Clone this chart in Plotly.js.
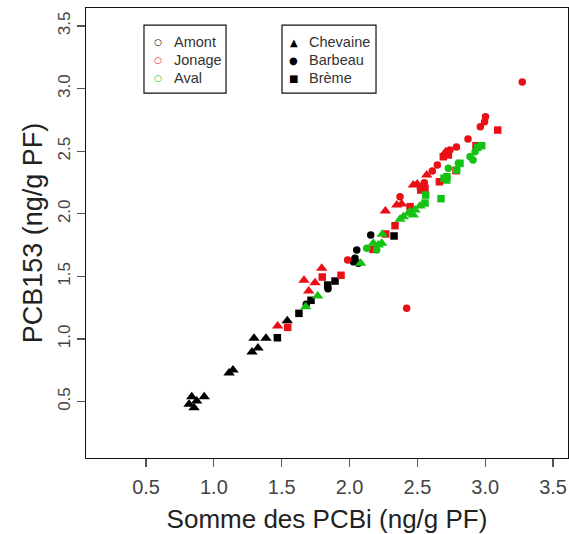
<!DOCTYPE html>
<html>
<head>
<meta charset="utf-8">
<script src="https://cdn.plot.ly/plotly-3.0.1.min.js"></script>
<style>
  html, body { margin: 0; padding: 0; background: #fff; overflow: hidden; }
  #chart { width: 569px; height: 534px; }
</style>
</head>
<body>
<div id="chart"></div>
<script>
// ---- Data (Somme des PCBi, PCB153), ng/g PF ----
// Amont (black)
const amontChevaineX = [0.837, 0.929, 0.873, 0.817, 0.854, 1.112, 1.141, 1.296, 1.384, 1.281, 1.325, 1.541];
const amontChevaineY = [0.539, 0.539, 0.505, 0.478, 0.451, 0.728, 0.752, 1.006, 1.006, 0.896, 0.928, 1.146];
const amontBarbeauX  = [1.681, 1.841, 2.053, 2.040, 2.065, 2.028, 2.156];
const amontBarbeauY  = [1.277, 1.402, 1.711, 1.645, 1.605, 1.617, 1.831];
const amontBremeX    = [1.468, 1.627, 1.716, 1.839, 1.893, 2.328];
const amontBremeY    = [1.010, 1.205, 1.309, 1.431, 1.463, 1.823];
// Jonage (red)
const jonageChevaineX = [1.470, 1.664, 1.699, 1.745, 1.795, 2.264, 2.348, 2.384, 2.470, 2.499, 2.532, 2.569, 2.709];
const jonageChevaineY = [1.104, 1.469, 1.383, 1.450, 1.565, 2.022, 2.070, 2.078, 2.230, 2.238, 2.216, 2.310, 2.496];
const jonageBarbeauX  = [1.986, 2.372, 2.421, 2.551, 2.610, 2.647, 2.740, 2.788, 2.873, 2.964, 2.995, 3.002, 3.273];
const jonageBarbeauY  = [1.631, 2.137, 1.245, 2.248, 2.342, 2.390, 2.510, 2.534, 2.597, 2.696, 2.736, 2.776, 3.053];
const jonageBremeX    = [1.544, 1.799, 1.937, 2.173, 2.267, 2.335, 2.446, 2.525, 2.556, 2.662, 2.691, 2.728, 2.785, 2.932, 3.092];
const jonageBremeY    = [1.093, 1.495, 1.509, 1.716, 1.839, 1.905, 2.057, 2.190, 2.204, 2.256, 2.456, 2.470, 2.344, 2.544, 2.669];
// Aval (green)
const avalChevaineX = [1.677, 1.765, 2.082, 2.175, 2.237, 2.212, 2.241, 2.372, 2.396, 2.433, 2.446, 2.470, 2.483, 2.519];
const avalChevaineY = [1.258, 1.343, 1.605, 1.764, 1.764, 1.751, 1.836, 1.956, 1.977, 2.004, 2.017, 1.990, 2.030, 2.062];
const avalBarbeauX  = [2.127, 2.200, 2.728, 2.802, 2.888, 2.910, 2.925];
const avalBarbeauY  = [1.724, 1.711, 2.363, 2.403, 2.456, 2.430, 2.496];
const avalBremeX    = [2.561, 2.556, 2.674, 2.696, 2.718, 2.716, 2.790, 2.814, 2.945, 2.974];
const avalBremeY    = [2.150, 2.086, 2.121, 2.284, 2.296, 2.270, 2.350, 2.403, 2.531, 2.544];

const tickVals = [0.5, 1.0, 1.5, 2.0, 2.5, 3.0, 3.5];
const tickText = ['0.5', '1.0', '1.5', '2.0', '2.5', '3.0', '3.5'];
const sites = ['Amont', 'Jonage', 'Aval'];
const species = ['Chevaine', 'Barbeau', 'Brème'];

// ---- Styles ----
const BLACK = '#000000', RED = '#ea0f16', GREEN = '#14c214';
const symbolOf = { Chevaine: 'triangle-up', Barbeau: 'circle', 'Brème': 'square' };
const sizeOf = { Chevaine: 10, Barbeau: 7.5, 'Brème': 7.5 };

const groups = [
  ['Amont', 'Chevaine', amontChevaineX, amontChevaineY, BLACK],
  ['Amont', 'Barbeau', amontBarbeauX, amontBarbeauY, BLACK],
  ['Amont', 'Brème', amontBremeX, amontBremeY, BLACK],
  ['Jonage', 'Chevaine', jonageChevaineX, jonageChevaineY, RED],
  ['Jonage', 'Barbeau', jonageBarbeauX, jonageBarbeauY, RED],
  ['Jonage', 'Brème', jonageBremeX, jonageBremeY, RED],
  ['Aval', 'Chevaine', avalChevaineX, avalChevaineY, GREEN],
  ['Aval', 'Barbeau', avalBarbeauX, avalBarbeauY, GREEN],
  ['Aval', 'Brème', avalBremeX, avalBremeY, GREEN]
];

const traces = groups.map(g => ({
  type: 'scatter', mode: 'markers',
  name: g[0] + ' ' + g[1],
  x: g[2], y: g[3],
  marker: { symbol: symbolOf[g[1]], size: sizeOf[g[1]], color: g[4], line: { width: 0 } },
  showlegend: false, hoverinfo: 'x+y'
}));

// ---- Legend boxes drawn as shapes + text ----
const FONT = 'Liberation Sans, Arial, sans-serif';
const rowsY = [0.9244, 0.8844, 0.8444];
const siteColors = [BLACK, RED, GREEN];
const speciesGlyph = ['▲', '●', '■'];
const annotations = [];
sites.forEach((s, i) => {
  annotations.push({ xref: 'paper', yref: 'paper', x: 0.1494, y: rowsY[i], text: '○', showarrow: false,
    xanchor: 'center', yanchor: 'middle', font: { family: 'DejaVu Sans', size: 9, color: siteColors[i] } });
  annotations.push({ xref: 'paper', yref: 'paper', x: 0.1784, y: rowsY[i], text: s, showarrow: false,
    xanchor: 'left', yanchor: 'middle', font: { family: FONT, size: 14.5, color: '#333' } });
});
species.forEach((s, i) => {
  annotations.push({ xref: 'paper', yref: 'paper', x: 0.4315, y: rowsY[i], text: speciesGlyph[i], showarrow: false,
    xanchor: 'center', yanchor: 'middle', font: { family: 'DejaVu Sans', size: 10, color: BLACK } });
  annotations.push({ xref: 'paper', yref: 'paper', x: 0.4585, y: rowsY[i], text: s, showarrow: false,
    xanchor: 'left', yanchor: 'middle', font: { family: FONT, size: 14.5, color: '#333' } });
});
const shapes = [
  { type: 'rect', xref: 'paper', yref: 'paper', x0: 0.1203, x1: 0.2905, y0: 0.811, y1: 0.962, line: { color: '#111', width: 1.2 } },
  { type: 'rect', xref: 'paper', yref: 'paper', x0: 0.4066, x1: 0.6017, y0: 0.811, y1: 0.962, line: { color: '#111', width: 1.2 } }
];

const axisCommon = {
  showline: true, mirror: true, linecolor: '#111', linewidth: 1.3,
  ticks: 'outside', ticklen: 8, tickwidth: 1.2, tickcolor: '#555',
  showgrid: false, zeroline: false,
  tickmode: 'array', tickvals: tickVals, ticktext: tickText
};

const layout = {
  width: 569, height: 534,
  margin: { l: 86, r: 1, t: 8, b: 76 },
  paper_bgcolor: '#fff', plot_bgcolor: '#fff',
  font: { family: FONT },
  xaxis: Object.assign({}, axisCommon, {
    range: [0.0575, 3.61],
    ticklabelstandoff: 3,
    tickfont: { size: 20, color: '#444', family: FONT },
    title: { text: 'Somme des PCBi (ng/g PF)', font: { size: 26, color: '#222', family: FONT }, standoff: 12 }
  }),
  yaxis: Object.assign({}, axisCommon, {
    range: [0.0495, 3.644],
    tickangle: -90,
    tickfont: { size: 17, color: '#444', family: FONT },
    title: { text: 'PCB153 (ng/g PF)', font: { size: 27, color: '#222', family: FONT }, standoff: 4 }
  }),
  shapes: shapes,
  annotations: annotations,
  showlegend: false
};

Plotly.newPlot('chart', traces, layout, { displayModeBar: false, staticPlot: true });
</script>
</body>
</html>
